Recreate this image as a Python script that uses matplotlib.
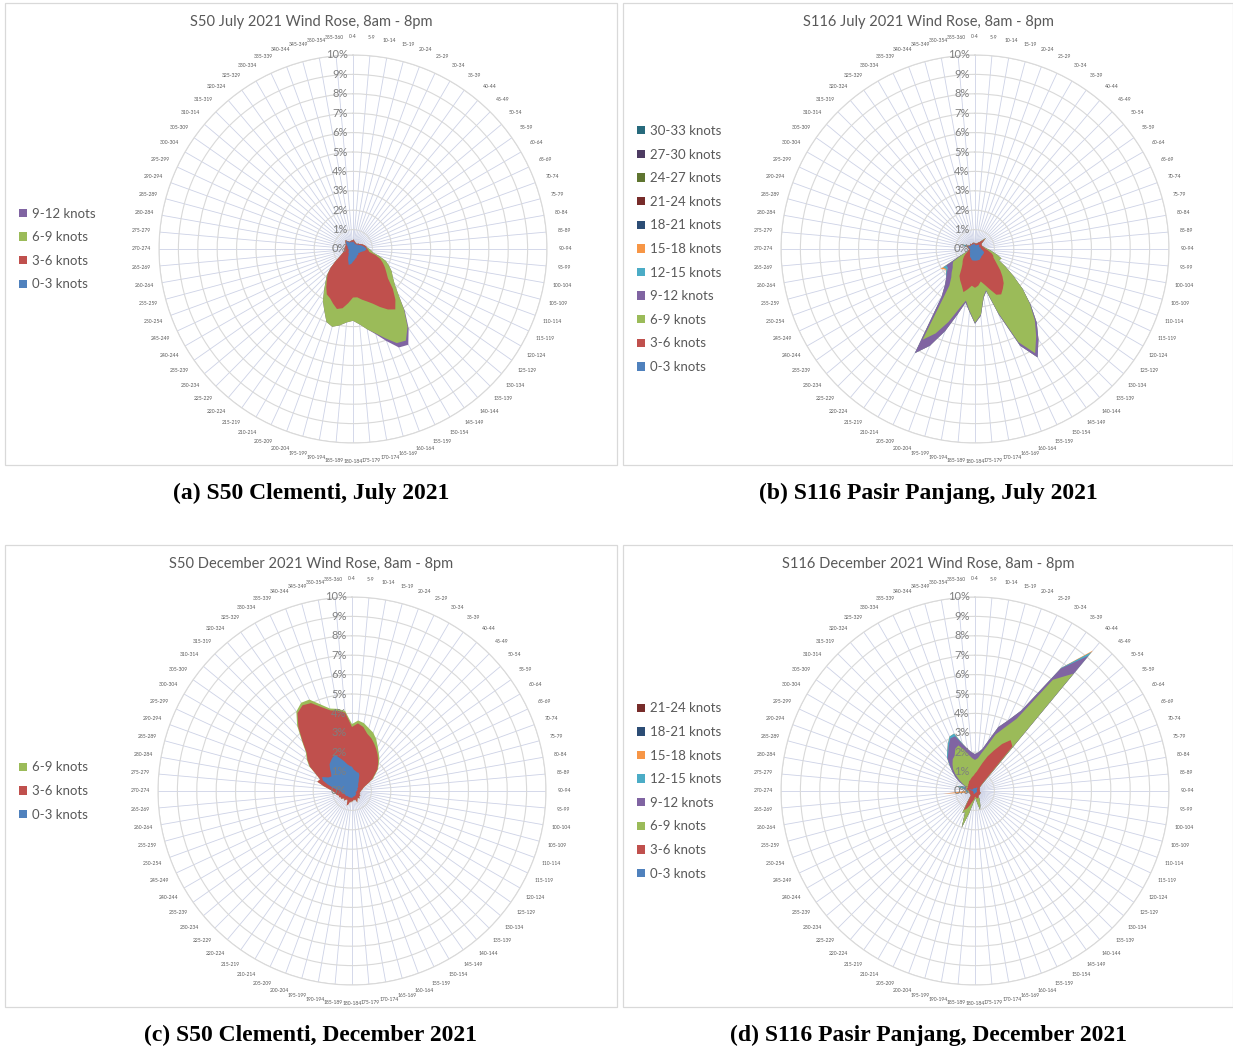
import numpy as np
import matplotlib
matplotlib.use("Agg")
import matplotlib.pyplot as plt
from matplotlib.patches import Patch, Rectangle

W, H = 1233, 1052

# 5-degree direction sectors, clockwise from north
sectors = [f"{d}-{d + 4}" for d in range(0, 355, 5)] + ["355-360"]

speed_bins = ["0-3 knots", "3-6 knots", "6-9 knots", "9-12 knots", "12-15 knots",
              "15-18 knots", "18-21 knots", "21-24 knots", "24-27 knots",
              "27-30 knots", "30-33 knots"]
bin_colors = ["#4F81BD", "#C0504D", "#9BBB59", "#8064A2", "#4BACC6", "#F79646",
              "#2C4D75", "#772C2A", "#5F7530", "#4D3B62", "#276A7C"]

# ---- S50 Clementi, July 2021 (% of records) ----
s50_jul_0_3 = [
    0.35, 0.40, 0.30, 0.35, 0.25, 0.30, 0.30, 0.25, 0.30, 0.35, 0.30, 0.35,
    0.40, 0.45, 0.50, 0.55, 0.60, 0.65, 0.70, 0.65, 0.60, 0.50, 0.45, 0.40,
    0.40, 0.35, 0.35, 0.40, 0.40, 0.40, 0.40, 0.45, 0.50, 0.50, 0.55, 0.60,
    0.65, 0.75, 0.80, 0.85, 0.70, 0.60, 0.50, 0.40, 0.35, 0.30, 0.30, 0.30,
    0.25, 0.25, 0.25, 0.20, 0.25, 0.20, 0.25, 0.25, 0.30, 0.25, 0.30, 0.30,
    0.35, 0.40, 0.45, 0.50, 0.55, 0.45, 0.40, 0.35, 0.40, 0.35, 0.40, 0.35]
s50_jul_3_6 = [
    0.10, 0.10, 0.10, 0.05, 0.10, 0.05, 0.05, 0.05, 0.05, 0.05, 0.10, 0.10,
    0.10, 0.10, 0.10, 0.10, 0.10, 0.05, 0.05, 0.15, 0.25, 0.70, 1.05, 1.30,
    1.50, 1.75, 2.00, 2.50, 3.00, 3.40, 3.20, 2.85, 2.50, 2.30, 2.10, 1.90,
    1.85, 2.05, 2.30, 2.35, 2.30, 2.20, 2.20, 2.00, 1.75, 1.55, 1.20, 0.80,
    0.55, 0.40, 0.30, 0.30, 0.20, 0.25, 0.20, 0.15, 0.15, 0.15, 0.15, 0.10,
    0.10, 0.05, 0.05, 0.05, 0.05, 0.05, 0.05, 0.05, 0.05, 0.05, 0.05, 0.10]
s50_jul_6_9 = [
    0.00, 0.00, 0.00, 0.00, 0.00, 0.00, 0.00, 0.00, 0.00, 0.00, 0.00, 0.00,
    0.00, 0.00, 0.00, 0.00, 0.00, 0.05, 0.10, 0.15, 0.20, 0.20, 0.30, 0.35,
    0.40, 0.40, 0.45, 0.40, 0.70, 1.10, 1.85, 2.05, 1.90, 1.70, 1.55, 1.40,
    1.20, 1.00, 0.90, 0.95, 1.00, 0.70, 0.40, 0.20, 0.10, 0.05, 0.00, 0.00,
    0.00, 0.00, 0.00, 0.00, 0.00, 0.00, 0.00, 0.00, 0.00, 0.00, 0.00, 0.00,
    0.00, 0.00, 0.00, 0.00, 0.00, 0.00, 0.00, 0.00, 0.00, 0.00, 0.00, 0.00]
s50_jul_9_12 = [
    0.00, 0.00, 0.00, 0.00, 0.00, 0.00, 0.00, 0.00, 0.00, 0.00, 0.00, 0.00,
    0.00, 0.00, 0.00, 0.00, 0.00, 0.00, 0.00, 0.00, 0.00, 0.00, 0.00, 0.00,
    0.00, 0.00, 0.00, 0.00, 0.05, 0.10, 0.25, 0.25, 0.15, 0.05, 0.00, 0.00,
    0.00, 0.00, 0.00, 0.00, 0.00, 0.00, 0.00, 0.00, 0.00, 0.00, 0.00, 0.00,
    0.00, 0.00, 0.00, 0.00, 0.00, 0.00, 0.00, 0.00, 0.00, 0.00, 0.00, 0.00,
    0.00, 0.00, 0.00, 0.00, 0.00, 0.00, 0.00, 0.00, 0.00, 0.00, 0.00, 0.00]

# ---- S116 Pasir Panjang, July 2021 ----
s116_jul_0_3 = [
    0.25, 0.20, 0.20, 0.20, 0.20, 0.25, 0.25, 0.25, 0.30, 0.30, 0.30, 0.25,
    0.25, 0.25, 0.25, 0.30, 0.30, 0.30, 0.30, 0.35, 0.40, 0.45, 0.50, 0.50,
    0.50, 0.50, 0.50, 0.50, 0.50, 0.55, 0.55, 0.60, 0.60, 0.60, 0.60, 0.60,
    0.60, 0.60, 0.60, 0.60, 0.55, 0.50, 0.50, 0.45, 0.40, 0.35, 0.35, 0.30,
    0.30, 0.30, 0.30, 0.25, 0.25, 0.25, 0.25, 0.30, 0.30, 0.35, 0.40, 0.35,
    0.30, 0.25, 0.25, 0.30, 0.30, 0.25, 0.25, 0.30, 0.25, 0.25, 0.30, 0.25]
s116_jul_3_6 = [
    0.05, 0.10, 0.05, 0.10, 0.10, 0.10, 0.15, 0.20, 0.25, 0.45, 0.15, 0.15,
    0.15, 0.15, 0.15, 0.15, 0.15, 0.20, 0.25, 0.30, 0.35, 0.45, 0.50, 0.55,
    0.70, 0.90, 1.20, 1.50, 1.80, 1.95, 2.15, 2.00, 1.60, 1.30, 1.10, 1.30,
    1.40, 1.30, 1.50, 1.70, 1.45, 1.30, 1.10, 0.75, 0.60, 0.55, 0.45, 0.40,
    0.30, 0.20, 0.10, 0.10, 0.10, 0.05, 0.05, 0.05, 0.05, 0.05, 0.05, 0.05,
    0.05, 0.05, 0.05, 0.05, 0.05, 0.05, 0.05, 0.05, 0.05, 0.05, 0.05, 0.05]
s116_jul_6_9 = [
    0.00, 0.00, 0.00, 0.00, 0.00, 0.00, 0.00, 0.00, 0.05, 0.05, 0.00, 0.00,
    0.00, 0.00, 0.00, 0.00, 0.05, 0.05, 0.10, 0.15, 0.20, 0.30, 0.45, 0.30,
    0.60, 1.00, 1.50, 2.00, 2.50, 3.00, 3.50, 2.70, 1.30, 0.30, 0.80, 1.50,
    1.80, 1.30, 0.60, 0.90, 2.00, 3.00, 3.80, 1.10, 0.90, 0.80, 0.70, 0.70,
    0.70, 0.30, 0.10, 0.00, 0.00, 0.00, 0.00, 0.00, 0.00, 0.05, 0.05, 0.00,
    0.00, 0.00, 0.00, 0.00, 0.00, 0.00, 0.00, 0.00, 0.00, 0.00, 0.00, 0.00]
s116_jul_9_12 = [
    0.00, 0.00, 0.00, 0.00, 0.00, 0.00, 0.00, 0.00, 0.00, 0.00, 0.00, 0.00,
    0.00, 0.00, 0.00, 0.00, 0.00, 0.00, 0.00, 0.00, 0.00, 0.00, 0.00, 0.00,
    0.00, 0.00, 0.00, 0.05, 0.15, 0.20, 0.25, 0.20, 0.10, 0.05, 0.05, 0.05,
    0.05, 0.05, 0.10, 0.30, 0.50, 0.70, 0.80, 0.70, 0.50, 0.40, 0.40, 0.30,
    0.40, 0.10, 0.00, 0.00, 0.00, 0.00, 0.00, 0.00, 0.00, 0.05, 0.05, 0.00,
    0.00, 0.00, 0.00, 0.00, 0.00, 0.00, 0.00, 0.00, 0.00, 0.00, 0.00, 0.00]
s116_jul_12_15 = [
    0.00, 0.00, 0.00, 0.00, 0.00, 0.00, 0.00, 0.00, 0.00, 0.00, 0.00, 0.00,
    0.00, 0.00, 0.00, 0.00, 0.00, 0.00, 0.00, 0.00, 0.00, 0.00, 0.00, 0.00,
    0.00, 0.00, 0.00, 0.00, 0.00, 0.00, 0.00, 0.00, 0.00, 0.00, 0.00, 0.00,
    0.00, 0.00, 0.00, 0.00, 0.00, 0.00, 0.00, 0.00, 0.00, 0.00, 0.05, 0.10,
    0.20, 0.00, 0.00, 0.00, 0.00, 0.00, 0.00, 0.00, 0.00, 0.05, 0.20, 0.00,
    0.00, 0.00, 0.00, 0.00, 0.00, 0.00, 0.00, 0.00, 0.00, 0.00, 0.00, 0.00]
s116_jul_15_18 = [
    0.00, 0.00, 0.00, 0.00, 0.00, 0.00, 0.00, 0.00, 0.00, 0.00, 0.00, 0.00,
    0.00, 0.00, 0.00, 0.00, 0.00, 0.00, 0.00, 0.00, 0.00, 0.00, 0.00, 0.00,
    0.00, 0.00, 0.00, 0.00, 0.00, 0.00, 0.00, 0.00, 0.00, 0.00, 0.00, 0.00,
    0.00, 0.00, 0.00, 0.00, 0.00, 0.00, 0.00, 0.00, 0.00, 0.00, 0.00, 0.05,
    0.15, 0.00, 0.00, 0.00, 0.00, 0.00, 0.00, 0.00, 0.00, 0.00, 0.00, 0.00,
    0.00, 0.00, 0.00, 0.00, 0.00, 0.00, 0.00, 0.00, 0.00, 0.00, 0.00, 0.00]

# ---- S50 Clementi, December 2021 ----
s50_dec_0_3 = [
    1.25, 1.10, 1.05, 1.00, 1.00, 0.90, 0.70, 0.60, 0.50, 0.45, 0.40, 0.40,
    0.35, 0.30, 0.30, 0.30, 0.30, 0.25, 0.25, 0.25, 0.20, 0.20, 0.20, 0.25,
    0.25, 0.25, 0.25, 0.30, 0.25, 0.30, 0.30, 0.30, 0.30, 0.30, 0.30, 0.35,
    0.35, 0.35, 0.35, 0.35, 0.35, 0.35, 0.35, 0.35, 0.35, 0.35, 0.40, 0.40,
    0.40, 0.40, 0.45, 0.45, 0.50, 0.55, 0.60, 0.80, 1.00, 1.30, 1.60, 1.70,
    1.40, 1.30, 1.40, 1.60, 1.80, 1.90, 2.00, 2.05, 1.80, 1.60, 1.40, 1.30]
s50_dec_3_6 = [
    2.05, 2.40, 2.30, 2.05, 1.90, 1.80, 1.80, 1.70, 1.60, 1.45, 1.30, 1.00,
    0.85, 0.60, 0.40, 0.30, 0.25, 0.25, 0.20, 0.20, 0.20, 0.25, 0.20, 0.20,
    0.25, 0.20, 0.25, 0.25, 0.20, 0.20, 0.25, 0.35, 0.15, 0.20, 0.15, 0.20,
    0.15, 0.25, 0.20, 0.35, 0.45, 0.20, 0.15, 0.20, 0.30, 0.20, 0.20, 0.30,
    0.25, 0.35, 0.25, 0.35, 0.35, 0.35, 0.40, 0.40, 0.50, 0.55, 0.15, 0.35,
    1.10, 1.50, 1.65, 2.00, 2.50, 3.00, 3.10, 2.95, 2.80, 2.70, 2.80, 2.75]
s50_dec_6_9 = [
    0.15, 0.15, 0.20, 0.30, 0.30, 0.25, 0.15, 0.10, 0.10, 0.05, 0.05, 0.05,
    0.05, 0.00, 0.00, 0.00, 0.00, 0.00, 0.00, 0.00, 0.00, 0.00, 0.00, 0.00,
    0.00, 0.00, 0.00, 0.00, 0.00, 0.00, 0.00, 0.00, 0.00, 0.00, 0.00, 0.00,
    0.00, 0.00, 0.00, 0.00, 0.00, 0.00, 0.00, 0.00, 0.00, 0.00, 0.00, 0.00,
    0.00, 0.00, 0.00, 0.00, 0.00, 0.00, 0.00, 0.00, 0.00, 0.00, 0.00, 0.00,
    0.05, 0.05, 0.05, 0.05, 0.10, 0.10, 0.15, 0.20, 0.15, 0.10, 0.10, 0.10]

# ---- S116 Pasir Panjang, December 2021 ----
s116_dec_0_3 = [
    0.15, 0.15, 0.15, 0.15, 0.20, 0.20, 0.20, 0.20, 0.20, 0.15, 0.10, 0.10,
    0.10, 0.10, 0.10, 0.10, 0.10, 0.10, 0.10, 0.10, 0.10, 0.10, 0.10, 0.10,
    0.10, 0.10, 0.10, 0.10, 0.10, 0.10, 0.10, 0.10, 0.10, 0.10, 0.10, 0.10,
    0.10, 0.15, 0.15, 0.15, 0.15, 0.15, 0.15, 0.15, 0.10, 0.10, 0.10, 0.10,
    0.10, 0.10, 0.10, 0.10, 0.10, 0.10, 0.10, 0.15, 0.20, 0.35, 0.25, 0.15,
    0.15, 0.15, 0.15, 0.15, 0.15, 0.15, 0.15, 0.15, 0.15, 0.15, 0.15, 0.15]
s116_dec_3_6 = [
    0.75, 0.85, 1.05, 1.35, 1.70, 2.10, 2.60, 3.00, 2.80, 0.35, 0.25, 0.20,
    0.20, 0.15, 0.15, 0.15, 0.15, 0.15, 0.15, 0.15, 0.15, 0.20, 0.20, 0.20,
    0.20, 0.20, 0.20, 0.20, 0.20, 0.20, 0.25, 0.30, 0.30, 0.30, 0.25, 0.20,
    0.20, 0.25, 0.35, 0.45, 0.65, 0.85, 1.00, 0.45, 0.30, 0.20, 0.20, 0.20,
    0.20, 0.20, 0.20, 0.20, 0.20, 0.20, 0.20, 0.20, 0.20, 0.10, 0.20, 0.25,
    0.30, 0.30, 0.30, 0.35, 0.35, 0.40, 0.45, 0.45, 0.50, 0.55, 0.60, 0.65]
s116_dec_6_9 = [
    0.70, 0.70, 0.80, 0.90, 1.20, 1.30, 1.50, 3.80, 4.90, 0.10, 0.00, 0.00,
    0.00, 0.00, 0.00, 0.00, 0.00, 0.00, 0.00, 0.00, 0.00, 0.00, 0.00, 0.00,
    0.00, 0.00, 0.00, 0.00, 0.00, 0.00, 0.10, 0.20, 0.40, 0.60, 0.25, 0.10,
    0.10, 0.10, 0.20, 0.60, 1.20, 0.20, 0.15, 0.10, 0.00, 0.00, 0.00, 0.00,
    0.00, 0.00, 0.00, 0.00, 0.05, 0.05, 0.05, 0.05, 0.05, 0.05, 0.05, 0.10,
    0.25, 0.55, 0.85, 1.10, 1.30, 1.45, 1.50, 1.80, 1.85, 1.50, 1.15, 0.90]
s116_dec_9_12 = [
    0.30, 0.30, 0.20, 0.30, 0.40, 0.40, 0.50, 0.70, 1.20, 0.05, 0.00, 0.00,
    0.00, 0.00, 0.00, 0.00, 0.00, 0.00, 0.00, 0.00, 0.00, 0.00, 0.00, 0.00,
    0.00, 0.00, 0.00, 0.00, 0.00, 0.00, 0.00, 0.00, 0.00, 0.00, 0.00, 0.00,
    0.00, 0.00, 0.00, 0.00, 0.00, 0.00, 0.00, 0.00, 0.00, 0.00, 0.00, 0.00,
    0.00, 0.00, 0.00, 0.00, 0.05, 0.05, 0.05, 0.05, 0.05, 0.10, 0.05, 0.05,
    0.20, 0.20, 0.20, 0.20, 0.40, 0.40, 0.60, 0.60, 0.50, 0.30, 0.30, 0.30]
s116_dec_12_15 = [
    0.00, 0.00, 0.00, 0.00, 0.00, 0.00, 0.00, 0.05, 0.25, 0.00, 0.00, 0.00,
    0.00, 0.00, 0.00, 0.00, 0.00, 0.00, 0.00, 0.00, 0.00, 0.00, 0.00, 0.00,
    0.00, 0.00, 0.00, 0.00, 0.00, 0.00, 0.00, 0.00, 0.00, 0.00, 0.00, 0.00,
    0.00, 0.00, 0.00, 0.00, 0.00, 0.00, 0.00, 0.00, 0.00, 0.00, 0.00, 0.00,
    0.00, 0.00, 0.00, 0.00, 0.05, 0.10, 0.05, 0.00, 0.10, 0.40, 0.15, 0.00,
    0.00, 0.00, 0.00, 0.05, 0.05, 0.10, 0.10, 0.10, 0.15, 0.05, 0.00, 0.00]
s116_dec_15_18 = [
    0.00, 0.00, 0.00, 0.00, 0.00, 0.00, 0.00, 0.00, 0.10, 0.00, 0.00, 0.00,
    0.00, 0.00, 0.00, 0.00, 0.00, 0.00, 0.00, 0.00, 0.00, 0.00, 0.00, 0.00,
    0.00, 0.00, 0.00, 0.00, 0.00, 0.00, 0.00, 0.00, 0.00, 0.00, 0.00, 0.00,
    0.00, 0.00, 0.00, 0.00, 0.00, 0.00, 0.00, 0.00, 0.00, 0.00, 0.00, 0.00,
    0.00, 0.00, 0.00, 0.00, 0.10, 1.15, 0.05, 0.00, 0.00, 0.00, 0.00, 0.00,
    0.00, 0.00, 0.00, 0.00, 0.00, 0.00, 0.00, 0.00, 0.00, 0.00, 0.00, 0.00]

# title, caption, stacked series (lowest speed first), legend size, frame, plot centre (px)
panels = [
    ("S50 July 2021 Wind Rose, 8am - 8pm", "(a) S50 Clementi, July 2021",
     [s50_jul_0_3, s50_jul_3_6, s50_jul_6_9, s50_jul_9_12], 4,
     (5, 3, 617, 465), (353, 249)),
    ("S116 July 2021 Wind Rose, 8am - 8pm", "(b) S116 Pasir Panjang, July 2021",
     [s116_jul_0_3, s116_jul_3_6, s116_jul_6_9, s116_jul_9_12, s116_jul_12_15,
      s116_jul_15_18], 11,
     (623, 3, 1233, 465), (975, 249)),
    ("S50 December 2021 Wind Rose, 8am - 8pm", "(c) S50 Clementi, December 2021",
     [s50_dec_0_3, s50_dec_3_6, s50_dec_6_9], 3,
     (5, 545, 617, 1007), (352, 791)),
    ("S116 December 2021 Wind Rose, 8am - 8pm", "(d) S116 Pasir Panjang, December 2021",
     [s116_dec_0_3, s116_dec_3_6, s116_dec_6_9, s116_dec_9_12, s116_dec_12_15,
      s116_dec_15_18], 8,
     (623, 545, 1233, 1007), (975, 791)),
]

SANS = "Lato"
GREY = "#595959"
R_PX = 194  # radius of the 10% ring in pixels

fig = plt.figure(figsize=(W / 100, H / 100), dpi=100)
fig.patch.set_facecolor("white")

theta = np.deg2rad(np.arange(0, 360, 5))

for title, caption, series, n_legend, box, (cx, cy) in panels:
    x0, y0, x1, y1 = box
    fig.patches.append(Rectangle((x0 / W, 1 - y1 / H), (x1 - x0) / W, (y1 - y0) / H,
                                 transform=fig.transFigure, fill=False,
                                 ec="#D9D9D9", lw=0.9))
    mid = (x0 + x1) / 2
    fig.text(mid / W, 1 - (y0 + 19) / H, title, ha="center", va="center",
             fontsize=10.5, color=GREY, family=SANS)
    fig.text(mid / W, 1 - (y1 + 28) / H, caption, ha="center", va="center",
             fontsize=17, weight="bold", family="Liberation Serif")

    ax = fig.add_axes([(cx - R_PX) / W, 1 - (cy + R_PX) / H, 2 * R_PX / W, 2 * R_PX / H],
                      projection="polar")
    ax.set_theta_zero_location("N")
    ax.set_theta_direction(-1)
    ax.set_axisbelow(True)

    # stacked speed bins: outermost cumulative polygon first
    cum = np.cumsum(np.array(series), axis=0)
    closed = np.append(theta, theta[0])
    for k in range(len(series) - 1, -1, -1):
        if not np.any(np.array(series[k]) > 0):
            continue
        ax.fill(closed, np.append(cum[k], cum[k][0]), color=bin_colors[k], lw=0, zorder=2)

    ax.set_ylim(0, 10)
    ax.set_yticks(np.arange(1, 11))
    ax.set_yticklabels([])
    ax.set_xticks(theta)
    ax.set_xticklabels(sectors, fontsize=3.6, color=GREY, family=SANS)
    ax.tick_params(axis="x", pad=6, length=0)
    ax.xaxis.grid(True, color="#CDD2E6", lw=0.6)
    ax.yaxis.grid(True, color="#D9D9D9", lw=0.8)
    ax.spines["polar"].set_color("#D9D9D9")
    ax.spines["polar"].set_linewidth(0.8)
    ax.set_facecolor("white")

    for k in range(0, 11):
        ax.annotate(f"{k}%", xy=(0, k), xytext=(-4, 0), textcoords="offset points",
                    ha="right", va="center", fontsize=8, color="#7F7F7F",
                    family=SANS, zorder=5, annotation_clip=False)

    handles = [Patch(facecolor=bin_colors[k], edgecolor="none", label=speed_bins[k])
               for k in range(n_legend - 1, -1, -1)]
    fig.legend(handles=handles, loc="center left",
               bbox_to_anchor=((x0 + 14) / W, 1 - cy / H),
               frameon=False, prop={"family": SANS, "size": 9.5}, labelcolor=GREY,
               handlelength=0.6, handleheight=0.6, handletextpad=0.35,
               labelspacing=0.88, borderpad=0, borderaxespad=0)

fig.savefig("out.png", dpi=100, facecolor="white")
